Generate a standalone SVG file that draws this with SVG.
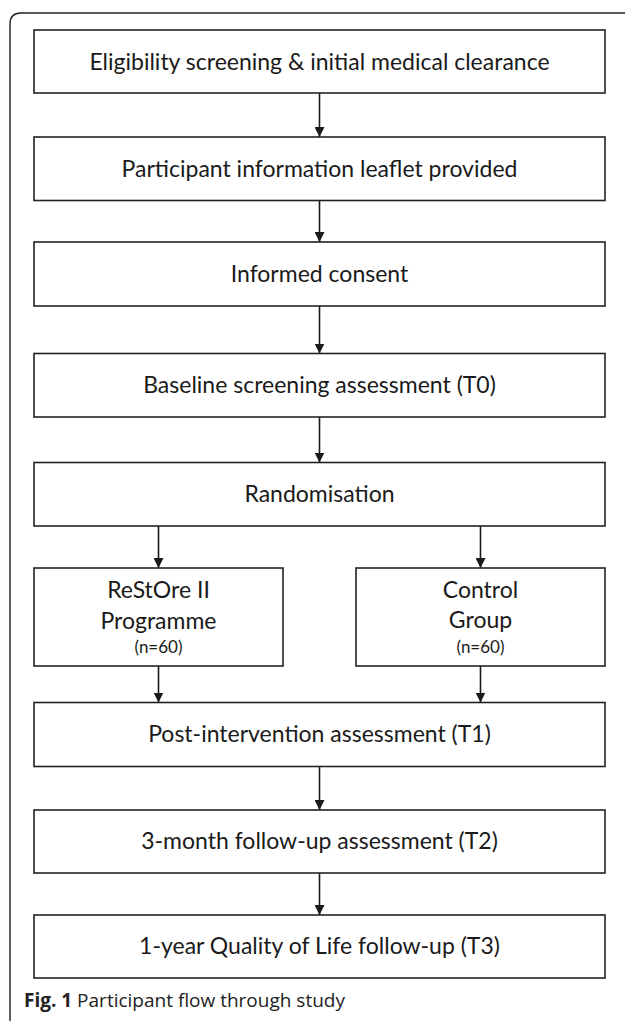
<svg xmlns="http://www.w3.org/2000/svg" width="625" height="1021" viewBox="0 0 625 1021">
<style>
.box{fill:#fff;stroke:#222;stroke-width:1.6}
.t{font-family:Lato,"Open Sans",sans-serif;font-size:23px;fill:#1a1a1a;text-anchor:middle}
.s{font-family:Lato,"Open Sans",sans-serif;font-size:17px;fill:#1a1a1a;text-anchor:middle}
.c{stroke:#1a1a1a;stroke-width:1.6;fill:none;marker-end:url(#ah)}
.cap{font-family:"Open Sans",sans-serif;font-size:19px;fill:#222}
</style>
<defs>
<marker id="ah" markerWidth="10" markerHeight="10" refX="10" refY="5" orient="auto" markerUnits="userSpaceOnUse">
<path d="M0,0 L10,5 L0,10 Z" fill="#1a1a1a"/>
</marker>
</defs>
<path d="M10,1021 V24 Q10,13 21,13 H625" fill="none" stroke="#222" stroke-width="1.4"/>
<g id="connectors">
<line class="c" x1="319.5" y1="93" x2="319.5" y2="137"/>
<line class="c" x1="319.5" y1="200.5" x2="319.5" y2="242"/>
<line class="c" x1="319.5" y1="306" x2="319.5" y2="353.5"/>
<line class="c" x1="319.5" y1="417" x2="319.5" y2="462.5"/>
<line class="c" x1="158.5" y1="526" x2="158.5" y2="568"/>
<line class="c" x1="480.5" y1="526" x2="480.5" y2="568"/>
<line class="c" x1="158.5" y1="666" x2="158.5" y2="702.5"/>
<line class="c" x1="480.5" y1="666" x2="480.5" y2="702.5"/>
<line class="c" x1="319.5" y1="766.5" x2="319.5" y2="810"/>
<line class="c" x1="319.5" y1="873" x2="319.5" y2="915"/>
</g>
<g id="n1"><rect class="box" x="34" y="30" width="571" height="63"/><text class="t" x="319.5" y="69.5">Eligibility screening &amp; initial medical clearance</text></g>
<g id="n2"><rect class="box" x="34" y="137" width="571" height="63.5"/><text class="t" x="319.5" y="176.5">Participant information leaflet provided</text></g>
<g id="n3"><rect class="box" x="34" y="242" width="571" height="64"/><text class="t" x="319.5" y="281.5">Informed consent</text></g>
<g id="n4"><rect class="box" x="34" y="353.5" width="571" height="63.5"/><text class="t" x="319.5" y="393">Baseline screening assessment (T0)</text></g>
<g id="n5"><rect class="box" x="34" y="462.5" width="571" height="63.5"/><text class="t" x="319.5" y="502">Randomisation</text></g>
<g id="n6"><rect class="box" x="34" y="568" width="249" height="98"/><text class="t" x="158.5" y="598">ReStOre II</text><text class="t" x="158.5" y="629">Programme</text><text class="s" x="158.5" y="653">(n=60)</text></g>
<g id="n7"><rect class="box" x="356" y="568" width="249" height="98"/><text class="t" x="480.5" y="598">Control</text><text class="t" x="480.5" y="628">Group</text><text class="s" x="480.5" y="653">(n=60)</text></g>
<g id="n8"><rect class="box" x="34" y="702.5" width="571" height="64"/><text class="t" x="319.5" y="742">Post-intervention assessment (T1)</text></g>
<g id="n9"><rect class="box" x="34" y="810" width="571" height="63"/><text class="t" x="319.5" y="849">3-month follow-up assessment (T2)</text></g>
<g id="n10"><rect class="box" x="34" y="915" width="571" height="63"/><text class="t" x="319.5" y="954">1-year Quality of Life follow-up (T3)</text></g>
<text class="cap" x="24" y="1007"><tspan font-weight="bold">Fig. 1</tspan> Participant flow through study</text>
</svg>
